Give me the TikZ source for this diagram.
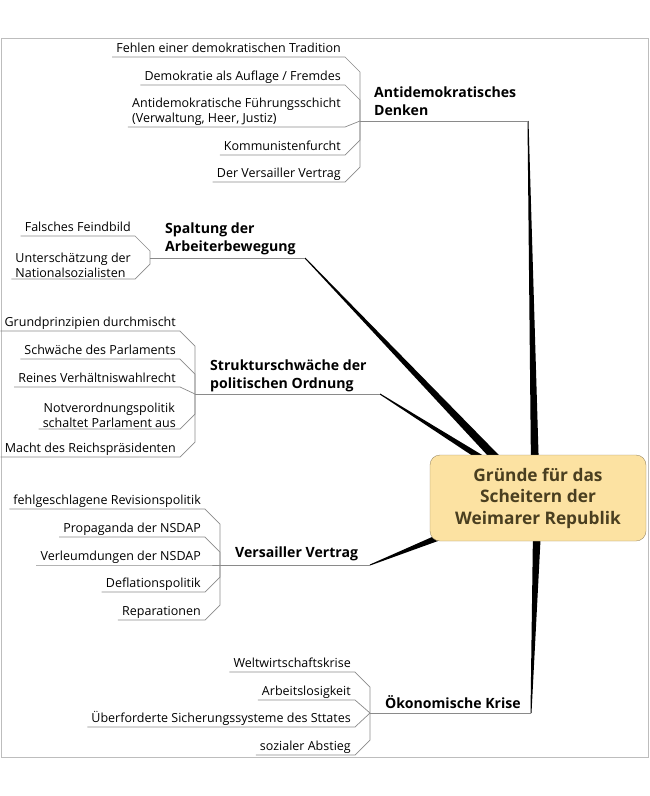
\documentclass[tikz,border=0pt]{standalone}
\usepackage{fontspec}
\setmainfont{Open Sans}
\usetikzlibrary{calc, backgrounds}
\definecolor{rootfill}{HTML}{FCE2A2}
\definecolor{rootdraw}{HTML}{9C8B66}
\definecolor{roottext}{HTML}{4A3F20}
\definecolor{twiggray}{HTML}{8A8A8A}
\definecolor{framegray}{HTML}{BDBDBD}
% tapered branch from a thin start to a wide end
\newcommand{\branchline}[3]{%
  \fill ($(#1)!0.5pt!90:(#2)$) -- ($(#2)!#3!-90:(#1)$) -- ($(#2)!#3!90:(#1)$)
    -- ($(#1)!0.5pt!-90:(#2)$) -- cycle;}

\begin{document}
\begin{tikzpicture}[x=1pt, y=-1pt,
    root/.style={rectangle, draw=rootdraw, fill=rootfill, rounded corners=10pt,
                 text=roottext, align=center, minimum width=216pt, minimum height=86pt,
                 font=\fontsize{17.3}{21.5}\selectfont\bfseries},
    topic/.style={anchor=south west, align=left, inner sep=0pt,
                  font=\fontsize{14.1}{18}\selectfont\bfseries},
    twigtext/.style={anchor=south east, inner xsep=4pt, inner ysep=1.5pt,
                     font=\fontsize{12.5}{15}\selectfont},
    leaf/.style={twigtext, text depth=0.25em},
    leafii/.style={twigtext, align=left},
    twig/.style={draw=twiggray, line width=0.7pt},
]
\useasboundingbox (0,0) rectangle (650,796);
\draw[framegray] (1,38) rectangle (648,757);

\node[root] (gruende) at (538,498) {Gründe für das\\Scheitern der\\Weimarer Republik};

% Antidemokratisches Denken
\coordinate (denken-hub) at (360,121);
\coordinate (denken-end) at (528,121);
\node[topic] (denken) at (374,116) {Antidemokratisches\\Denken};
\node[leaf] (f1) at (345,57) {Fehlen einer demokratischen Tradition};
\node[leaf] (f2) at (345,85) {Demokratie als Auflage / Fremdes};
\node[leafii] (f3) at (345,127) {Antidemokratische Führungsschicht\\(Verwaltung, Heer, Justiz)};
\node[leaf] (f4) at (345,155) {Kommunistenfurcht};
\node[leaf] (f5) at (345,182) {Der Versailler Vertrag};
\draw[twig] (denken-hub) -- (denken-end);
\draw[twig] (f1.south west) -- (f1.south east) -- ++(15,15) -- (denken-hub);
\draw[twig] (f2.south west) -- (f2.south east) -- ++(15,15) -- (denken-hub);
\draw[twig] (f3.south west) -- (f3.south east) -- (denken-hub);
\draw[twig] (f4.south west) -- (f4.south east) -- ++(15,-15) -- (denken-hub);
\draw[twig] (f5.south west) -- (f5.south east) -- ++(15,-15) -- (denken-hub);

% Spaltung der Arbeiterbewegung
\coordinate (spaltung-hub) at (150,258);
\coordinate (spaltung-end) at (305,258);
\node[topic] (spaltung) at (165,255) {Spaltung der\\Arbeiterbewegung};
\node[leaf] (s1) at (135,236) {Falsches Feindbild};
\node[leafii] (s2) at (135,279) {Unterschätzung der\\Nationalsozialisten};
\draw[twig] (spaltung-hub) -- (spaltung-end);
\draw[twig] (s1.south west) -- (s1.south east) -- ++(15,15) -- (spaltung-hub);
\draw[twig] (s2.south west) -- (s2.south east) -- ++(15,-15) -- (spaltung-hub);

% Strukturschwaeche
\coordinate (struktur-hub) at (195,394);
\coordinate (struktur-end) at (380,394);
\node[topic] (struktur) at (210,392) {Strukturschwäche der\\politischen Ordnung};
\node[leaf] (g1) at (180,331) {Grundprinzipien durchmischt};
\node[leaf] (g2) at (180,359) {Schwäche des Parlaments};
\node[leaf] (g3) at (180,387) {Reines Verhältniswahlrecht};
\node[twigtext, align=center] (g4) at (180,429) {Notverordnungspolitik\\schaltet Parlament aus};
\node[leaf] (g5) at (180,457) {Macht des Reichspräsidenten};
\draw[twig] (struktur-hub) -- (struktur-end);
\draw[twig] (g1.south west) -- (g1.south east) -- ++(15,15) -- (struktur-hub);
\draw[twig] (g2.south west) -- (g2.south east) -- ++(15,15) -- (struktur-hub);
\draw[twig] (g3.south west) -- (g3.south east) -- (struktur-hub);
\draw[twig] (g4.south west) -- (g4.south east) -- ++(15,-15) -- (struktur-hub);
\draw[twig] (g5.south west) -- (g5.south east) -- ++(15,-15) -- (struktur-hub);

% Versailler Vertrag
\coordinate (versailles-hub) at (220,565);
\coordinate (versailles-end) at (370,565);
\node[topic] (versailles) at (235,561) {Versailler Vertrag};
\node[leaf] (v1) at (205,509) {fehlgeschlagene Revisionspolitik};
\node[leaf] (v2) at (205,537) {Propaganda der NSDAP};
\node[leaf] (v3) at (205,565) {Verleumdungen der NSDAP};
\node[leaf] (v4) at (205,592) {Deflationspolitik};
\node[leaf] (v5) at (205,620) {Reparationen};
\draw[twig] (versailles-hub) -- (versailles-end);
\draw[twig] (v1.south west) -- (v1.south east) -- ++(15,15) -- (versailles-hub);
\draw[twig] (v2.south west) -- (v2.south east) -- ++(15,15) -- (versailles-hub);
\draw[twig] (v3.south west) -- (v3.south east) -- (versailles-hub);
\draw[twig] (v4.south west) -- (v4.south east) -- ++(15,-15) -- (versailles-hub);
\draw[twig] (v5.south west) -- (v5.south east) -- ++(15,-15) -- (versailles-hub);

% Oekonomische Krise
\coordinate (krise-hub) at (370,713);
\coordinate (krise-end) at (531,713);
\node[topic] (krise) at (385,709) {Ökonomische Krise};
\node[leaf] (k1) at (355,672) {Weltwirtschaftskrise};
\node[leaf] (k2) at (355,700) {Arbeitslosigkeit};
\node[leaf] (k3) at (355,727) {Überforderte Sicherungssysteme des Sttates};
\node[leaf] (k4) at (355,755) {sozialer Abstieg};
\draw[twig] (krise-hub) -- (krise-end);
\draw[twig] (k1.south west) -- (k1.south east) -- ++(15,15) -- (krise-hub);
\draw[twig] (k2.south west) -- (k2.south east) -- (krise-hub);
\draw[twig] (k3.south west) -- (k3.south east) -- (krise-hub);
\draw[twig] (k4.south west) -- (k4.south east) -- ++(15,-15) -- (krise-hub);

% tapered main branches, behind the central topic
\coordinate (to-denken) at ($(gruende.north)+(-3,15)$);
\coordinate (to-spaltung) at ($(gruende.north)+(-31,15)$);
\coordinate (to-struktur) at ($(gruende.north)+(-38,15)$);
\coordinate (to-versailles) at ($(gruende.west)+(20,35)$);
\coordinate (to-krise) at ($(gruende.south)+(-1,-11)$);
\begin{scope}[on background layer]
\branchline{denken-end}{to-denken}{4pt}
\branchline{spaltung-end}{to-spaltung}{4.5pt}
\branchline{struktur-end}{to-struktur}{3.5pt}
\branchline{versailles-end}{to-versailles}{3.5pt}
\branchline{krise-end}{to-krise}{4pt}
\end{scope}
\end{tikzpicture}
\end{document}
